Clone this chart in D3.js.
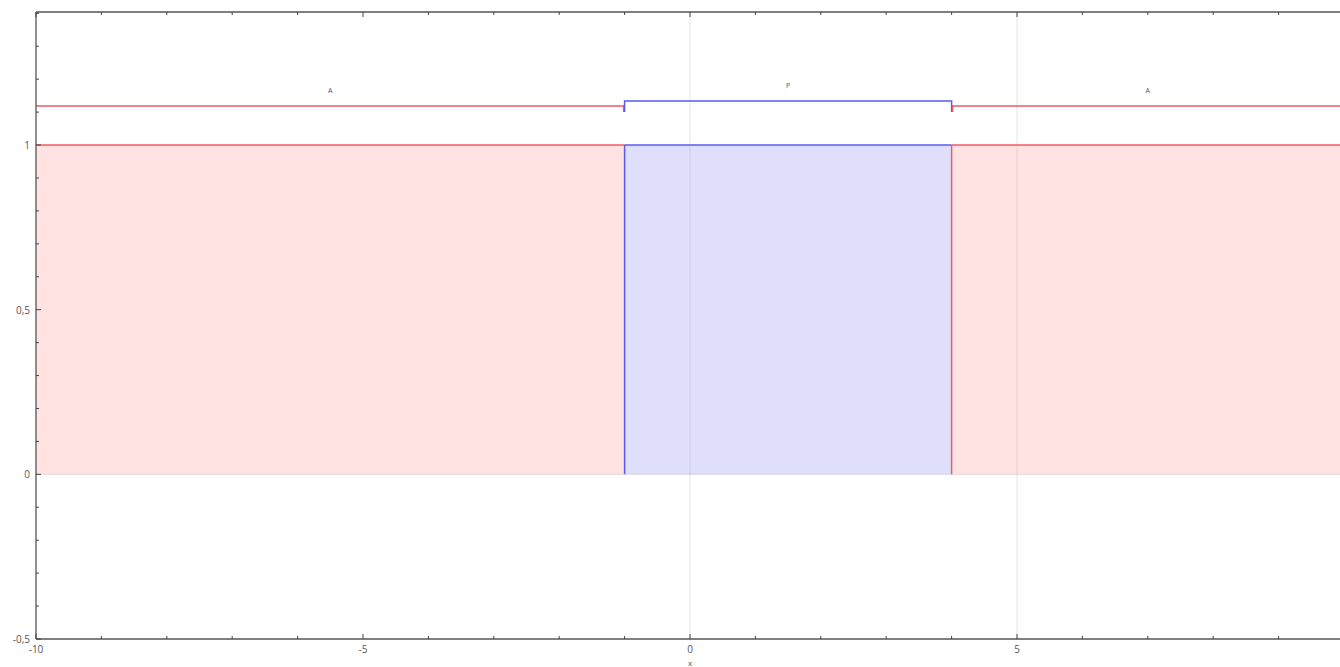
<!DOCTYPE html>
<html>
<head>
<meta charset="utf-8">
<script src="https://cdn.jsdelivr.net/npm/d3@7"></script>
<style>
  html, body { margin: 0; padding: 0; background: #fff; overflow: hidden; }
  svg { display: block; font-family: "Open Sans", "DejaVu Sans", sans-serif; }
</style>
</head>
<body>
<svg id="chart" width="1340" height="667"></svg>
<script>
// interval data
const segStart = [-10, -1, 4];
const segEnd = [-1, 4, 10];
const segValue = [1, 1, 1];
const segLabel = ["A", "P", "A"];
const segKind = ["a", "p", "a"];

const xDomain = [-10, 10];
const yDomain = [-0.5, 1.404];
const xLabels = [-10, -5, 0, 5];
const yLabels = [-0.5, 0, 0.5, 1];
const xGrid = [0, 5];
const yGrid = [0];

const svg = d3.select("#chart");
const margin = { left: 36, top: 12, bottom: 28 };
const W = 1340, H = 667;

const x = d3.scaleLinear().domain(xDomain).range([margin.left, 1344]);
const y = d3.scaleLinear().domain(yDomain).range([H - margin.bottom, margin.top]);

const colors = {
    a: { stroke: "#f05a64", fill: "#ffdfdf" },
    p: { stroke: "#5a5af0", fill: "#dcdcfc" }
};

const fmt = v => String(v).replace(".", ",");

const segs = segStart.map((s, i) => ({ s, e: segEnd[i], v: segValue[i], label: segLabel[i], kind: segKind[i] }));

// filled areas
const areas = svg.append("g");
areas.selectAll("rect").data(segs).join("rect")
    .attr("x", d => x(d.s))
    .attr("width", d => x(d.e) - x(d.s))
    .attr("y", d => y(d.v))
    .attr("height", d => y(0) - y(d.v))
    .attr("fill", d => colors[d.kind].fill)
    .attr("opacity", 0.9);

// faint grid lines drawn over fills
const grid = svg.append("g").attr("stroke", "#999").attr("stroke-opacity", 0.25).attr("stroke-width", 1);
grid.selectAll(".gx").data(xGrid).join("line")
    .attr("x1", d => x(d)).attr("x2", d => x(d))
    .attr("y1", y(yDomain[0])).attr("y2", y(yDomain[1]));
grid.selectAll(".gy").data(yGrid).join("line")
    .attr("x1", x(xDomain[0])).attr("x2", x(xDomain[1]))
    .attr("y1", d => y(d)).attr("y2", d => y(d));

// outlines: top edges
areas.selectAll(".top").data(segs).join("line")
    .attr("x1", d => x(d.s)).attr("x2", d => x(d.e))
    .attr("y1", d => y(d.v)).attr("y2", d => y(d.v))
    .attr("stroke", d => colors[d.kind].stroke).attr("stroke-width", 1.5);

// vertical edges of the middle interval
const mid = segs.filter(d => d.kind === "p");
svg.append("g").selectAll(".vl").data(mid).join("line")
    .attr("x1", d => x(d.s)).attr("x2", d => x(d.s))
    .attr("y1", d => y(d.v)).attr("y2", y(0))
    .attr("stroke", colors.p.stroke).attr("stroke-width", 1.5);
svg.append("g").selectAll(".vr").data(mid).join("line")
    .attr("x1", d => x(d.e)).attr("x2", d => x(d.e))
    .attr("y1", d => y(d.v)).attr("y2", y(0))
    .attr("stroke", colors.a.stroke).attr("stroke-width", 1.5);

// brackets above intervals
const brk = svg.append("g");
const lift = d => d.kind === "p" ? 44 : 39;
brk.selectAll("path").data(segs).join("path")
    .attr("d", d => {
        const yy = y(d.v) - lift(d);
        const x1 = x(d.s), x2 = x(d.e);
        if (d.kind === "p") {
            return `M${x1},${yy + 11}V${yy}H${x2}V${yy + 11}`;
        }
        let p = `M${x1},${yy}H${x2}`;
        if (d.s > xDomain[0]) p += `M${x1 + 1},${yy - 1}V${yy + 6}`;
        if (d.e < xDomain[1]) p += `M${x2 - 1},${yy - 1}V${yy + 6}`;
        return p;
    })
    .attr("fill", "none")
    .attr("stroke", d => colors[d.kind].stroke)
    .attr("stroke-width", 1.5);
brk.selectAll("text").data(segs).join("text")
    .attr("x", d => x((d.s + d.e) / 2))
    .attr("y", d => y(d.v) - lift(d) - 13)
    .attr("text-anchor", "middle")
    .attr("font-size", 7)
    .attr("fill", "#555")
    .text(d => d.label);

// frame
const frame = svg.append("g").attr("stroke", "#555").attr("fill", "none").attr("stroke-width", 1.3);
frame.append("line").attr("x1", x(xDomain[0])).attr("x2", W).attr("y1", y(yDomain[0])).attr("y2", y(yDomain[0]));
frame.append("line").attr("x1", x(xDomain[0])).attr("x2", W).attr("y1", y(yDomain[1])).attr("y2", y(yDomain[1]));
frame.append("line").attr("x1", x(xDomain[0])).attr("x2", x(xDomain[0])).attr("y1", y(yDomain[0])).attr("y2", y(yDomain[1]));

// ticks
const xt = d3.range(-10, 11, 1);
const yt = d3.range(-5, 15, 1).map(v => v / 10);
const isMajorX = v => v % 5 === 0;
const isMajorY = v => Math.abs(v * 2 - Math.round(v * 2)) < 1e-9;
const tk = svg.append("g").attr("stroke", "#444").attr("stroke-width", 1);
tk.selectAll(".xb").data(xt).join("line")
    .attr("x1", d => x(d)).attr("x2", d => x(d))
    .attr("y1", y(yDomain[0])).attr("y2", d => y(yDomain[0]) - (isMajorX(d) ? 5 : 3));
tk.selectAll(".xt").data(xt).join("line")
    .attr("x1", d => x(d)).attr("x2", d => x(d))
    .attr("y1", y(yDomain[1])).attr("y2", d => y(yDomain[1]) + (isMajorX(d) ? 5 : 3));
tk.selectAll(".yl").data(yt).join("line")
    .attr("x1", x(xDomain[0])).attr("x2", d => x(xDomain[0]) + (isMajorY(d) ? 5 : 3))
    .attr("y1", d => y(d)).attr("y2", d => y(d));

// tick labels
const lbl = svg.append("g").attr("fill", "#555").attr("font-size", 10);
lbl.selectAll(".xl").data(xLabels).join("text")
    .attr("x", d => x(d)).attr("y", y(yDomain[0]) + 14)
    .attr("text-anchor", "middle")
    .text(d => fmt(d));
lbl.selectAll(".yl").data(yLabels).join("text")
    .attr("x", x(xDomain[0]) - 6).attr("y", d => y(d) + 4)
    .attr("text-anchor", "end")
    .text(d => fmt(d));
lbl.append("text").attr("x", x(0)).attr("y", H - 1)
    .attr("text-anchor", "middle").attr("font-size", 8).text("x");
</script>
</body>
</html>
